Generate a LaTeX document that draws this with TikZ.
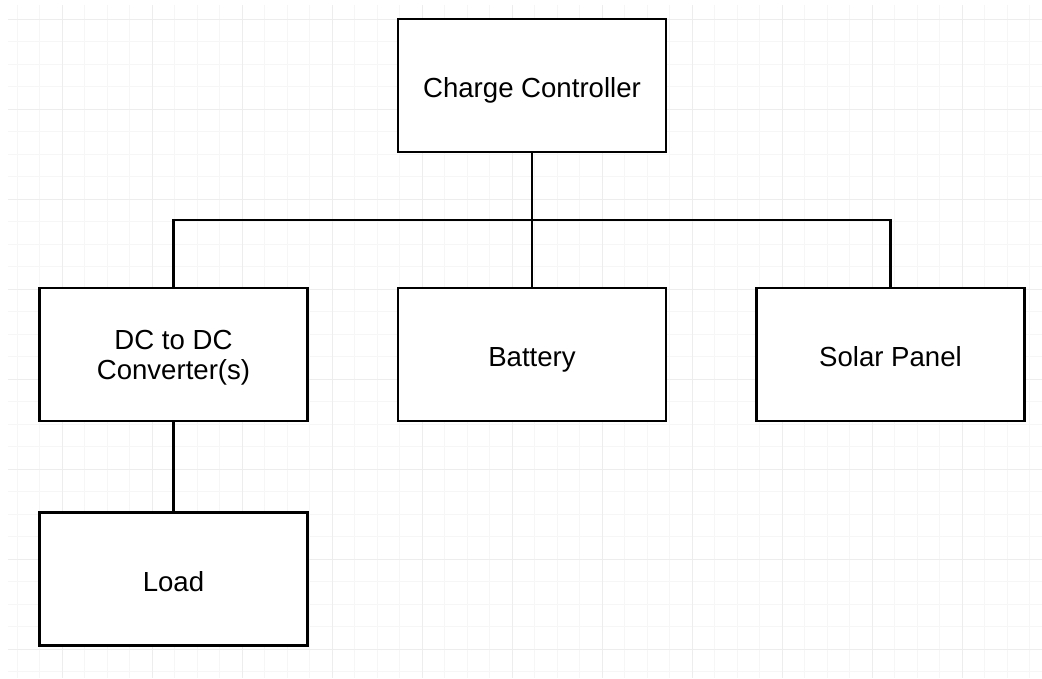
\documentclass[tikz,border=0pt]{standalone}
\usepackage{fontspec}
\setmainfont{Liberation Sans}
\usetikzlibrary{calc}

\begin{document}
\begin{tikzpicture}[
  font=\fontsize{15.7}{17}\selectfont,
  block/.style={draw,line width=1.5pt,fill=white,minimum width=5.36cm,minimum height=2.66cm,align=center},
  oneline/.style={text height=14pt,text depth=0pt},
  wire/.style={line width=1.5pt},
  gridminor/.style={color=black!3.5,line width=0.5pt},
  gridmajor/.style={color=black!7,line width=0.5pt}
]
  \useasboundingbox (0,0) rectangle (20.84,-13.56);
  \fill[white] (0,0) rectangle (20.84,-13.56);

  % background grid
  \begin{scope}[shift={(1.24,-0.38)}]
    \draw[gridminor,step=0.45] (-1.08,0.28) grid (19.6,-13.18);
    \draw[gridmajor,step=1.8] (-1.08,0.28) grid (19.6,-13.18);
  \end{scope}

  \node[block,oneline] (cc) at (10.64,-1.71) {Charge Controller};
  \node[block,text depth=0pt] (conv) at (3.47,-7.09) {DC to DC\\Converter(s)};
  \node[block,oneline] (batt) at (10.64,-7.09) {Battery};
  \node[block,oneline] (solar) at (17.81,-7.09) {Solar Panel};
  \node[block,oneline] (load) at (3.47,-11.58) {Load};

  \coordinate (bus) at (10.64,-4.4);

  \draw[wire] (cc.south) -- (batt.north);
  \draw[wire] (conv.north) |- (bus) -| (solar.north);
  \draw[wire] (conv.south) -- (load.north);
\end{tikzpicture}
\end{document}
